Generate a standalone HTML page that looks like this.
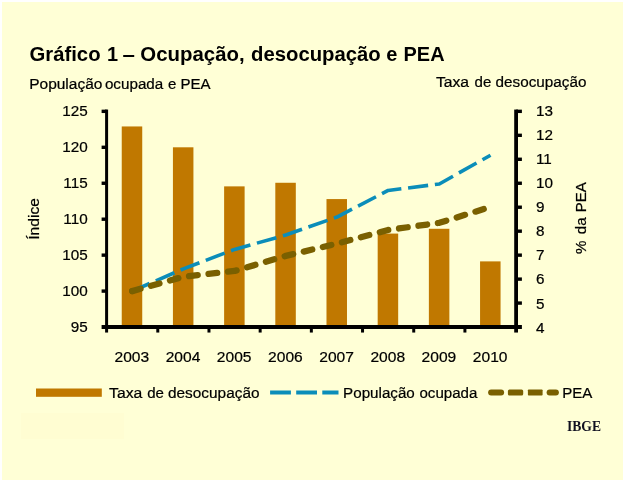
<!DOCTYPE html>
<html><head><meta charset="utf-8"><title>Gráfico 1</title>
<style>
html,body{margin:0;padding:0;background:#fff;}
svg{display:block;}
text{font-family:"Liberation Sans",sans-serif;fill:#000;stroke:#000;stroke-width:0.22px;}
</style></head><body>
<svg width="625" height="482" viewBox="0 0 625 482">
<rect x="0" y="0" width="625" height="482" fill="#fff"/>
<rect x="2" y="2" width="621" height="478" fill="#FFFFD6"/>
<rect x="21" y="413" width="103" height="26" fill="#FFFDD2"/>

<rect x="121.74" y="126.45" width="20.5" height="200.60" fill="#C07800"/>
<rect x="172.93" y="147.30" width="20.5" height="179.75" fill="#C07800"/>
<rect x="224.12" y="186.37" width="20.5" height="140.68" fill="#C07800"/>
<rect x="275.31" y="182.77" width="20.5" height="144.28" fill="#C07800"/>
<rect x="326.49" y="199.07" width="20.5" height="127.98" fill="#C07800"/>
<rect x="377.68" y="233.58" width="20.5" height="93.47" fill="#C07800"/>
<rect x="428.87" y="228.79" width="20.5" height="98.26" fill="#C07800"/>
<rect x="480.06" y="261.38" width="20.5" height="65.67" fill="#C07800"/>
<g stroke="#000" fill="none">
<line x1="106.6" y1="109.55" x2="106.6" y2="332.55" stroke-width="3"/>
<line x1="516.1" y1="109.55" x2="516.1" y2="332.55" stroke-width="3.8"/>
<line x1="101.60" y1="327.05" x2="521.90" y2="327.05" stroke-width="4.1"/>
</g><g stroke="#000" stroke-width="3.4" fill="none">
<line x1="101.60" y1="111.35" x2="106.6" y2="111.35"/>
<line x1="101.60" y1="147.30" x2="106.6" y2="147.30"/>
<line x1="101.60" y1="183.25" x2="106.6" y2="183.25"/>
<line x1="101.60" y1="219.20" x2="106.6" y2="219.20"/>
<line x1="101.60" y1="255.15" x2="106.6" y2="255.15"/>
<line x1="101.60" y1="291.10" x2="106.6" y2="291.10"/>
<line x1="516.1" y1="111.35" x2="521.90" y2="111.35"/>
<line x1="516.1" y1="135.32" x2="521.90" y2="135.32"/>
<line x1="516.1" y1="159.28" x2="521.90" y2="159.28"/>
<line x1="516.1" y1="183.25" x2="521.90" y2="183.25"/>
<line x1="516.1" y1="207.22" x2="521.90" y2="207.22"/>
<line x1="516.1" y1="231.18" x2="521.90" y2="231.18"/>
<line x1="516.1" y1="255.15" x2="521.90" y2="255.15"/>
<line x1="516.1" y1="279.12" x2="521.90" y2="279.12"/>
<line x1="516.1" y1="303.08" x2="521.90" y2="303.08"/>
<line x1="157.79" y1="327.05" x2="157.79" y2="332.55" stroke-width="3"/>
<line x1="208.97" y1="327.05" x2="208.97" y2="332.55" stroke-width="3"/>
<line x1="260.16" y1="327.05" x2="260.16" y2="332.55" stroke-width="3"/>
<line x1="311.35" y1="327.05" x2="311.35" y2="332.55" stroke-width="3"/>
<line x1="362.54" y1="327.05" x2="362.54" y2="332.55" stroke-width="3"/>
<line x1="413.73" y1="327.05" x2="413.73" y2="332.55" stroke-width="3"/>
<line x1="464.91" y1="327.05" x2="464.91" y2="332.55" stroke-width="3"/>
</g>
<polyline points="132.19,291.10 183.38,268.81 234.57,249.40 285.76,235.02 336.94,217.04 388.13,190.44 439.32,183.97 490.51,155.21" fill="none" stroke="#0B8DB9" stroke-width="3.6" stroke-dasharray="20.2 6.8" stroke-dashoffset="1.2" stroke-linejoin="round"/>
<polyline points="132.19,291.10 183.38,276.72 234.57,270.97 285.76,255.87 336.94,243.65 388.13,229.99 439.32,222.80 490.51,206.98" fill="none" stroke="#7A6000" stroke-width="6.3" stroke-linecap="round" stroke-dasharray="8.7 10.92" stroke-linejoin="round"/>
<circle cx="132.19" cy="291.10" r="3.1" fill="#7A6000"/>
<text x="29.47" y="60.60" textLength="71.10" lengthAdjust="spacingAndGlyphs" style="font-size:20.3px;font-weight:bold;stroke:none;">Gráfico</text>
<text x="107.09" y="60.60" textLength="11.06" lengthAdjust="spacingAndGlyphs" style="font-size:20.3px;font-weight:bold;stroke:none;">1</text>
<text x="122.45" y="60.60" textLength="12.40" lengthAdjust="spacingAndGlyphs" style="font-size:20.3px;font-weight:bold;stroke:none;">–</text>
<text x="140.36" y="60.60" textLength="104.24" lengthAdjust="spacingAndGlyphs" style="font-size:20.3px;font-weight:bold;stroke:none;">Ocupação,</text>
<text x="251.07" y="60.60" textLength="129.60" lengthAdjust="spacingAndGlyphs" style="font-size:20.3px;font-weight:bold;stroke:none;">desocupação</text>
<text x="386.27" y="60.60" textLength="11.12" lengthAdjust="spacingAndGlyphs" style="font-size:20.3px;font-weight:bold;stroke:none;">e</text>
<text x="403.55" y="60.60" textLength="41.03" lengthAdjust="spacingAndGlyphs" style="font-size:20.3px;font-weight:bold;stroke:none;">PEA</text>
<text x="29.19" y="88.90" textLength="73.24" lengthAdjust="spacingAndGlyphs" style="font-size:15.5px;">População</text>
<text x="104.92" y="88.90" textLength="58.38" lengthAdjust="spacingAndGlyphs" style="font-size:15.5px;">ocupada</text>
<text x="168.08" y="88.90" textLength="8.38" lengthAdjust="spacingAndGlyphs" style="font-size:15.5px;">e</text>
<text x="180.50" y="88.90" textLength="30.15" lengthAdjust="spacingAndGlyphs" style="font-size:15.5px;">PEA</text>
<text x="435.95" y="87.40" textLength="33.15" lengthAdjust="spacingAndGlyphs" style="font-size:15.5px;">Taxa</text>
<text x="474.59" y="87.40" textLength="16.76" lengthAdjust="spacingAndGlyphs" style="font-size:15.5px;">de</text>
<text x="495.52" y="87.40" textLength="90.90" lengthAdjust="spacingAndGlyphs" style="font-size:15.5px;">desocupação</text>
<text x="62.23" y="115.90" textLength="25.47" lengthAdjust="spacingAndGlyphs" style="font-size:15.5px;">125</text>
<text x="62.23" y="151.95" textLength="25.47" lengthAdjust="spacingAndGlyphs" style="font-size:15.5px;">120</text>
<text x="63.36" y="188.00" textLength="24.34" lengthAdjust="spacingAndGlyphs" style="font-size:15.5px;">115</text>
<text x="63.36" y="224.05" textLength="24.34" lengthAdjust="spacingAndGlyphs" style="font-size:15.5px;">110</text>
<text x="62.23" y="260.10" textLength="25.47" lengthAdjust="spacingAndGlyphs" style="font-size:15.5px;">105</text>
<text x="62.23" y="296.15" textLength="25.47" lengthAdjust="spacingAndGlyphs" style="font-size:15.5px;">100</text>
<text x="70.72" y="332.20" textLength="16.98" lengthAdjust="spacingAndGlyphs" style="font-size:15.5px;">95</text>
<text x="535.90" y="115.75" textLength="16.98" lengthAdjust="spacingAndGlyphs" style="font-size:15.5px;">13</text>
<text x="535.90" y="139.85" textLength="16.98" lengthAdjust="spacingAndGlyphs" style="font-size:15.5px;">12</text>
<text x="535.90" y="163.95" textLength="15.85" lengthAdjust="spacingAndGlyphs" style="font-size:15.5px;">11</text>
<text x="535.90" y="188.05" textLength="16.98" lengthAdjust="spacingAndGlyphs" style="font-size:15.5px;">10</text>
<text x="535.90" y="212.15" textLength="8.49" lengthAdjust="spacingAndGlyphs" style="font-size:15.5px;">9</text>
<text x="535.90" y="236.25" textLength="8.49" lengthAdjust="spacingAndGlyphs" style="font-size:15.5px;">8</text>
<text x="535.90" y="260.35" textLength="8.49" lengthAdjust="spacingAndGlyphs" style="font-size:15.5px;">7</text>
<text x="535.90" y="284.45" textLength="8.49" lengthAdjust="spacingAndGlyphs" style="font-size:15.5px;">6</text>
<text x="535.90" y="308.55" textLength="8.49" lengthAdjust="spacingAndGlyphs" style="font-size:15.5px;">5</text>
<text x="535.90" y="332.65" textLength="8.49" lengthAdjust="spacingAndGlyphs" style="font-size:15.5px;">4</text>
<text x="114.52" y="362.10" textLength="34.65" lengthAdjust="spacingAndGlyphs" style="font-size:15.5px;">2003</text>
<text x="165.70" y="362.10" textLength="34.65" lengthAdjust="spacingAndGlyphs" style="font-size:15.5px;">2004</text>
<text x="216.89" y="362.10" textLength="34.65" lengthAdjust="spacingAndGlyphs" style="font-size:15.5px;">2005</text>
<text x="268.08" y="362.10" textLength="34.65" lengthAdjust="spacingAndGlyphs" style="font-size:15.5px;">2006</text>
<text x="319.27" y="362.10" textLength="34.65" lengthAdjust="spacingAndGlyphs" style="font-size:15.5px;">2007</text>
<text x="370.45" y="362.10" textLength="34.65" lengthAdjust="spacingAndGlyphs" style="font-size:15.5px;">2008</text>
<text x="421.64" y="362.10" textLength="34.65" lengthAdjust="spacingAndGlyphs" style="font-size:15.5px;">2009</text>
<text x="472.83" y="362.10" textLength="34.65" lengthAdjust="spacingAndGlyphs" style="font-size:15.5px;">2010</text>
<g transform="translate(39.00,0) rotate(-90)"><text x="-239.78" y="0.00" textLength="41.71" lengthAdjust="spacingAndGlyphs" style="font-size:15.5px;">Índice</text></g>
<g transform="translate(586.10,0) rotate(-90)"><text x="-254.11" y="0.00" textLength="13.40" lengthAdjust="spacingAndGlyphs" style="font-size:15.5px;">%</text></g>
<g transform="translate(586.10,0) rotate(-90)"><text x="-234.26" y="0.00" textLength="16.76" lengthAdjust="spacingAndGlyphs" style="font-size:15.5px;">da</text></g>
<g transform="translate(586.10,0) rotate(-90)"><text x="-212.25" y="0.00" textLength="30.15" lengthAdjust="spacingAndGlyphs" style="font-size:15.5px;">PEA</text></g>
<rect x="36" y="388.5" width="65.8" height="8.3" fill="#C07800"/>
<text x="109.05" y="398.00" textLength="33.25" lengthAdjust="spacingAndGlyphs" style="font-size:15.5px;">Taxa</text>
<text x="147.14" y="398.00" textLength="16.76" lengthAdjust="spacingAndGlyphs" style="font-size:15.5px;">de</text>
<text x="168.02" y="398.00" textLength="91.50" lengthAdjust="spacingAndGlyphs" style="font-size:15.5px;">desocupação</text>
<line x1="270.1" y1="392.5" x2="338.5" y2="392.5" stroke="#0B8DB9" stroke-width="3.8" stroke-dasharray="20.8 5.3"/>
<text x="343.11" y="398.00" textLength="71.70" lengthAdjust="spacingAndGlyphs" style="font-size:15.5px;">População</text>
<text x="419.43" y="398.00" textLength="57.98" lengthAdjust="spacingAndGlyphs" style="font-size:15.5px;">ocupada</text>
<rect x="488.1" y="389.4" width="16.0" height="6.2" rx="3" fill="#7A6000"/>
<rect x="507.9" y="389.4" width="15.3" height="6.2" rx="1.6" fill="#7A6000"/>
<rect x="527.9" y="389.4" width="14.7" height="6.2" rx="0.8" fill="#7A6000"/>
<rect x="546.6" y="389.4" width="12.3" height="6.2" rx="3" fill="#7A6000"/>
<text x="562.25" y="398.00" textLength="30.15" lengthAdjust="spacingAndGlyphs" style="font-size:15.5px;">PEA</text>
<text x="566.97" y="431.30" textLength="34.10" lengthAdjust="spacingAndGlyphs" style="font-size:14px;font-weight:bold;stroke:none;font-family:'Liberation Serif',serif;fill:#101020;" fill="#101020">IBGE</text>
</svg></body></html>
